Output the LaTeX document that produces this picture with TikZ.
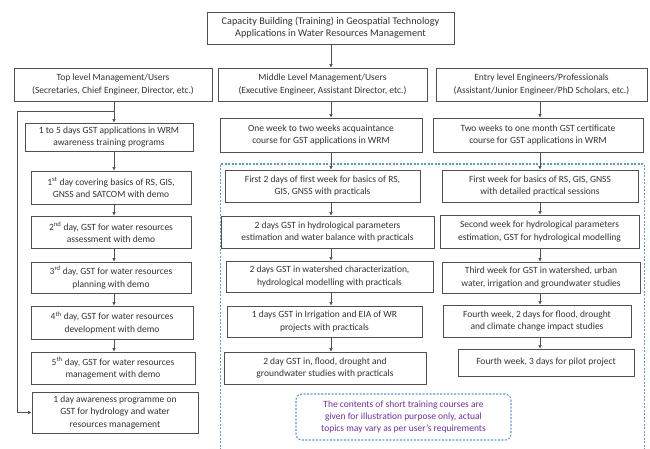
\documentclass[tikz,border=0pt]{standalone}
\usepackage{fontspec}
\setmainfont{Carlito}
\usetikzlibrary{arrows.meta}
\definecolor{txt}{HTML}{333333}
\definecolor{edge}{HTML}{505050}
\definecolor{dblue}{RGB}{91,155,213}
\definecolor{purp}{HTML}{7030A0}
\newcommand\mybox[6]{\node[box, minimum width={#3-#2}, minimum height={#5-#4}] (#1) at ({(#2+#3)/2},{(#4+#5)/2}) {#6};}
\begin{document}
\begin{tikzpicture}[x=1pt,y=-1pt,
 box/.style={draw=edge, line width=0.8pt, text=txt, align=center, font=\fontsize{9.5}{12.2}\selectfont, inner sep=0pt},
 arr/.style={draw=edge, line width=0.6pt, -{Latex[length=3.5pt,width=3.5pt]}},
 dotbox/.style={draw=dblue, line width=1.1pt, dash pattern=on 2pt off 1.5pt},
 notebox/.style={dotbox, rounded corners=6pt, text=purp, align=center, font=\fontsize{9.5}{12.2}\selectfont, inner sep=0pt}]
\useasboundingbox (0,0) rectangle (650,449);
\fill[white] (0,0) rectangle (650,449);

% dashed region
\node[dotbox, minimum width=424, minimum height=310, inner sep=0pt, anchor=north west] (region) at (219.5,163.5) {};

% title and headers
\mybox{title}{207}{454}{12}{44}{\fontsize{10.2}{12.4}\selectfont Capacity Building (Training) in Geospatial Technology\\\fontsize{10.2}{12.4}\selectfont Applications in Water Resources Management}
\mybox{lh}{14}{212}{68}{101}{Top level Management/Users\\(Secretaries, Chief Engineer, Director, etc.)}
\mybox{mh}{218}{427}{68}{101}{Middle Level Management/Users\\(Executive Engineer, Assistant Director, etc.)}
\mybox{rh}{436}{647}{68}{101}{Entry level Engineers/Professionals\\(Assistant/Junior Engineer/PhD Scholars, etc.)}

% left column
\mybox{l0}{25}{193}{123}{151}{1 to 5 days GST applications in WRM\\awareness training programs}
\mybox{l1}{31}{191}{171}{204}{1\textsuperscript{st} day covering basics of RS, GIS,\\GNSS and SATCOM with demo}
\mybox{l2}{31}{191}{216}{248}{2\textsuperscript{nd} day, GST for water resources\\assessment with demo}
\mybox{l3}{31}{191}{262}{293}{3\textsuperscript{rd} day, GST for water resources\\planning with demo}
\mybox{l4}{31}{193}{306}{339}{4\textsuperscript{th} day, GST for water resources\\development with demo}
\mybox{l5}{31}{195}{352}{384}{5\textsuperscript{th} day, GST for water resources\\management with demo}
\mybox{l6}{32}{198}{392}{433}{1 day awareness programme on\\GST for hydrology and water\\resources management}

% middle column
\mybox{m0}{220}{422}{118}{152}{One week to two weeks acquaintance\\course for GST applications in WRM}
\mybox{m1}{225}{420}{170}{202}{First 2 days of first week for basics of RS,\\GIS, GNSS with practicals}
\mybox{m2}{221}{434}{216}{248}{2 days GST in hydrological parameters\\estimation and water balance with practicals}
\mybox{m3}{226}{433}{261}{292}{2 days GST in watershed characterization,\\hydrological modelling with practicals}
\mybox{m4}{227}{422}{306}{337}{1 days GST in Irrigation and EIA of WR\\projects with practicals}
\mybox{m5}{224}{426}{352}{384}{2 day GST in, flood, drought and\\groundwater studies with practicals}

% right column
\mybox{r0}{433}{643}{118}{152}{Two weeks to one month GST certificate\\course for GST applications in WRM}
\mybox{r1}{442}{638}{170}{202}{First week for basics of RS, GIS, GNSS\\with detailed practical sessions}
\mybox{r2}{440}{639}{215}{248}{Second week for hydrological parameters\\estimation, GST for hydrological modelling}
\mybox{r3}{442}{640}{262}{293}{Third week for GST in watershed, urban\\water, irrigation and groundwater studies}
\mybox{r4}{443}{631}{305}{337}{Fourth week, 2 days for flood, drought\\and climate change impact studies}
\mybox{r5}{458}{634}{349}{376}{Fourth week, 3 days for pilot project}

% note
\node[notebox, minimum width=215, minimum height=46] (note) at (403.5,417) {The contents of short training courses are\\given for illustration purpose only, actual\\topics may vary as per user's requirements};

% arrow columns
\coordinate (cx) at (331,0);
\coordinate (lx) at (114,0);
\coordinate (mx) at (331,0);
\coordinate (rx) at (540,0);
\coordinate (lp) at (17,111);

\draw[arr] (title.south -| cx) -- (mh.north -| cx);

\draw[arr] (lh.south -| lx) -- (l0.north -| lx);
\draw[arr] (l0.south -| lx) -- (l1.north -| lx);
\draw[arr] (l1.south -| lx) -- (l2.north -| lx);
\draw[arr] (l2.south -| lx) -- (l3.north -| lx);
\draw[arr] (l3.south -| lx) -- (l4.north -| lx);
\draw[arr] (l4.south -| lx) -- (l5.north -| lx);
\draw[arr] (lp -| lx) -- (lp) |- (l6.west);

\draw[arr] (mh.south -| mx) -- (m0.north -| mx);
\draw[arr] (m0.south -| mx) -- (m1.north -| mx);
\draw[arr] (m1.south -| mx) -- (m2.north -| mx);
\draw[arr] (m2.south -| mx) -- (m3.north -| mx);
\draw[arr] (m3.south -| mx) -- (m4.north -| mx);
\draw[arr] (m4.south -| mx) -- (m5.north -| mx);

\draw[arr] (rh.south -| rx) -- (r0.north -| rx);
\draw[arr] (r0.south -| rx) -- (r1.north -| rx);
\draw[arr] (r1.south -| rx) -- (r2.north -| rx);
\draw[arr] (r2.south -| rx) -- (r3.north -| rx);
\draw[arr] (r3.south -| rx) -- (r4.north -| rx);
\draw[arr] (r4.south -| rx) -- (r5.north -| rx);
\end{tikzpicture}
\end{document}
